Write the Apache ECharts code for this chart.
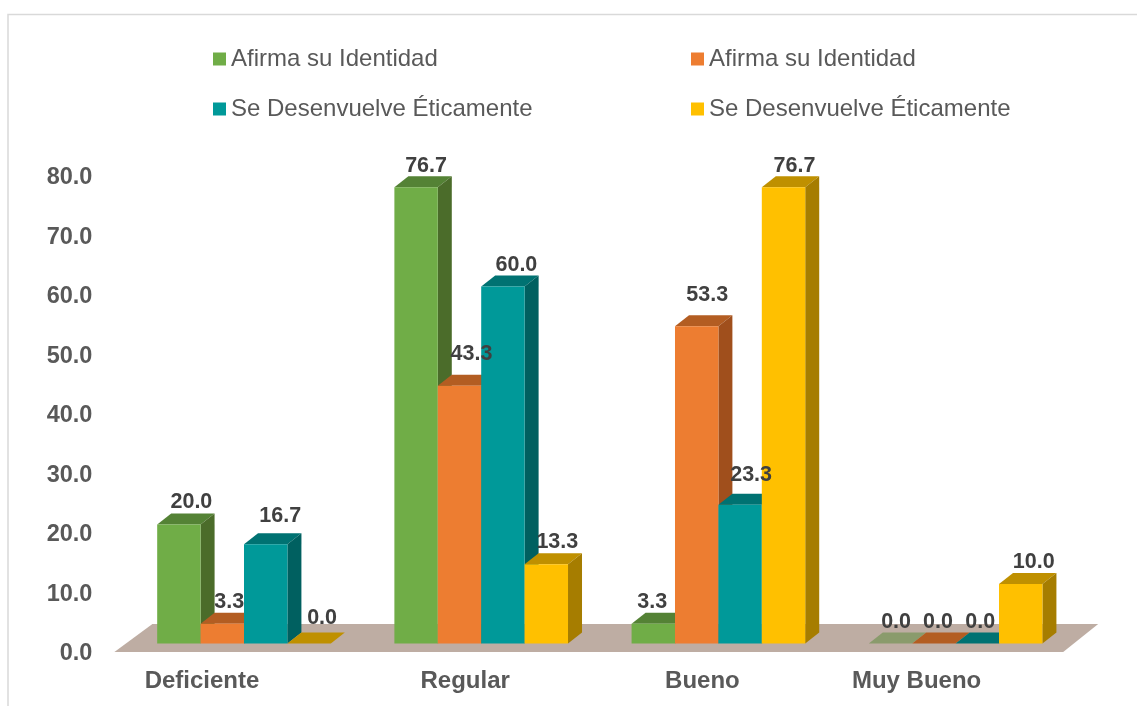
<!DOCTYPE html>
<html>
<head>
<meta charset="utf-8">
<title>Chart</title>
<script src="https://cdn.jsdelivr.net/npm/echarts@6/dist/echarts.min.js"></script>
<style>
    html, body {margin: 0; padding: 0; background: #fff;}
    #main {width: 1137px; height: 706px;}
</style>
</head>
<body>
<div id="main"></div>
<script>
var categories = ['Deficiente', 'Regular', 'Bueno', 'Muy Bueno'];
var yTicks = ['0.0', '10.0', '20.0', '30.0', '40.0', '50.0', '60.0', '70.0', '80.0'];
var seriesNames = ['Afirma su Identidad', 'Afirma su Identidad', 'Se Desenvuelve Éticamente', 'Se Desenvuelve Éticamente'];
var afirma1 = [20.0, 76.7, 3.3, 0.0];
var afirma2 = [3.3, 43.3, 53.3, 0.0];
var desenv1 = [16.7, 60.0, 23.3, 0.0];
var desenv2 = [0.0, 13.3, 76.7, 10.0];

// colores: frente, tapa, lado, tapa cuando el valor es 0
var faces = [
    {front: '#70AD47', top: '#548235', side: '#4B6C2A', zero: '#8A9B6C'},
    {front: '#ED7D31', top: '#B35D22', side: '#A04F1C', zero: '#B35D22'},
    {front: '#009999', top: '#007272', side: '#006060', zero: '#007272'},
    {front: '#FFC000', top: '#BF9000', side: '#A67D00', zero: '#BF9000'}
];
var depthX = 14, depthY = 11, baseShift = 7.5;

// ajuste de cada etiqueta [dx, dy] por serie y categoria
var labelNudge = [
    [[12.5, -22], [10, -21], [-1, -22], [5.6, -21]],
    [[7, -22], [12, -32], [10.5, -31], [4, -21]],
    [[14.5, -28], [13.5, -21], [11, -30], [3, -21]],
    [[13, -25], [11, -22], [11, -21], [13, -22]]
];

function barBox(api, s) {
    var c = api.coord([api.value(0), api.value(1)]);
    var base = api.coord([api.value(0), 0]);
    var w = api.size([1, 0])[0] * 0.183;
    return {x: c[0] + (s - 2) * w, w: w, top: c[1] - baseShift, bottom: base[1] - baseShift};
}

function poly(points, color) {
    return {type: 'polygon', shape: {points: points}, style: {fill: color}, silent: true};
}

//dibuja una barra con frente, tapa y lado
function renderBar(s) {
    return function (params, api) {
        var b = barBox(api, s), f = faces[s], kids = [];
        var r = b.x + b.w;
        var flat = b.bottom - b.top < 1;
        kids.push(poly([[b.x, b.top], [r, b.top], [r + depthX, b.top - depthY], [b.x + depthX, b.top - depthY]], flat ? f.zero : f.top));
        if (!flat) {
            kids.push(poly([[r, b.top], [r + depthX, b.top - depthY], [r + depthX, b.bottom - depthY], [r, b.bottom]], f.side));
            kids.push({type: 'rect', shape: {x: b.x, y: b.top, width: b.w, height: b.bottom - b.top}, style: {fill: f.front}, silent: true});
        }
        return {type: 'group', children: kids};
    };
}

function pairs(values) {
    return values.map(function (v, i) { return [i, v]; });
}

var allValues = [afirma1, afirma2, desenv1, desenv2];
var labelData = [];
allValues.forEach(function (vals, s) {
    vals.forEach(function (v, i) { labelData.push([i, v, s]); });
});

var series = [{
    type: 'custom',
    silent: true,
    z: 1,
    data: [[0, 0]],
    clip: false,
    renderItem: function (params, api) {
        var g = params.coordSys;
        var y0 = g.y + g.height;
        return poly([[g.x - 11, y0 + 1], [g.x + 27, y0 - 27], [g.x + g.width + 24, y0 - 27], [g.x + g.width - 11, y0 + 1]], '#BEADA3');
    }
}];
allValues.forEach(function (vals, s) {
    series.push({
        name: seriesNames[s],
        type: 'custom',
        z: 2,
        itemStyle: {color: faces[s].front},
        encode: {x: 0, y: 1},
        data: pairs(vals),
        clip: false,
        renderItem: renderBar(s)
    });
});
series.push({
    type: 'custom',
    silent: true,
    z: 3,
    encode: {x: 0, y: 1},
    data: labelData,
    clip: false,
    renderItem: function (params, api) {
        var s = api.value(2), i = api.value(0);
        var b = barBox(api, s), n = labelNudge[s][i];
        return {
            type: 'text',
            silent: true,
            style: {
                text: api.value(1).toFixed(1),
                x: b.x + b.w / 2 + n[0],
                y: b.top + n[1],
                align: 'center',
                verticalAlign: 'middle',
                fontFamily: 'Liberation Sans',
                fontSize: 21.5,
                fontWeight: 'bold',
                fill: '#404040'
            }
        };
    }
});

function legendAt(s, left, top) {
    return {
        left: left,
        top: top,
        icon: 'rect',
        itemWidth: 13,
        itemHeight: 13,
        selectedMode: false,
        padding: 0,
        textStyle: {fontFamily: 'Liberation Sans', fontSize: 24, color: '#595959'},
        data: [{name: seriesNames[s], itemStyle: {color: faces[s].front}}]
    };
}

var labelPad = [84, 32, 32, 78];
var catRich = {};
labelPad.forEach(function (p, i) {
    catRich['c' + i] = {
        fontFamily: 'Liberation Sans',
        fontSize: 24,
        fontWeight: 'bold',
        color: '#595959',
        padding: [0, p, 0, 0]
    };
});

var option = {
    animation: false,
    backgroundColor: '#fff',
    graphic: [{
        type: 'rect',
        z: -1,
        silent: true,
        shape: {x: 8, y: 14.5, width: 1300, height: 900},
        style: {fill: 'none', stroke: '#D9D9D9', lineWidth: 1.5}
    }],
    legend: [
        legendAt(0, 213, 47),
        legendAt(1, 691, 47),
        legendAt(2, 213, 97),
        legendAt(3, 691, 97)
    ],
    grid: {left: 125.4, top: 175, width: 948.8, height: 476},
    xAxis: {
        type: 'category',
        data: categories,
        axisLine: {show: false},
        axisTick: {show: false},
        axisLabel: {
            interval: 0,
            margin: 18,
            rich: catRich,
            formatter: function (value, idx) {
                return '{c' + idx + '|' + value + '}';
            }
        }
    },
    yAxis: {
        type: 'value',
        min: 0,
        max: 80,
        interval: 10,
        splitLine: {show: false},
        axisLine: {show: false},
        axisTick: {show: false},
        axisLabel: {
            margin: 33,
            rich: {
                t: {
                    fontFamily: 'Liberation Sans',
                    fontSize: 23.5,
                    fontWeight: 'bold',
                    color: '#595959',
                    padding: [6, 0, 0, 0]
                }
            },
            formatter: function (v) {
                return '{t|' + yTicks[v / 10] + '}';
            }
        }
    },
    series: series
};

var myChart = echarts.init(document.getElementById('main'), null, {renderer: 'canvas'});
myChart.setOption(option);
</script>
</body>
</html>
